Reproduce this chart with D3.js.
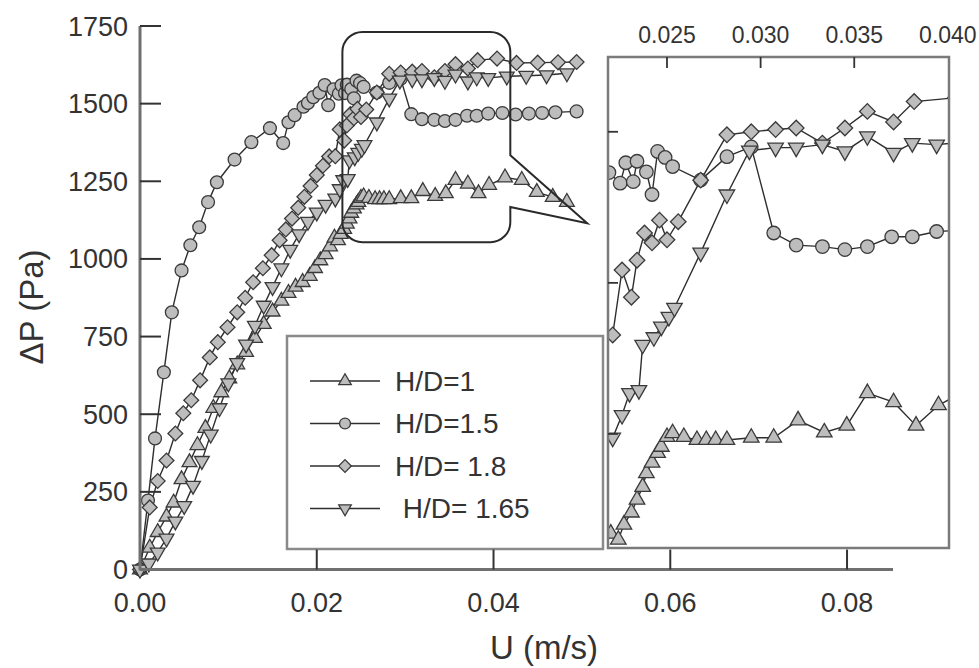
<!DOCTYPE html>
<html><head><meta charset="utf-8">
<script src="https://cdn.jsdelivr.net/npm/d3@7"></script>
<style>body{margin:0;background:#fff}svg{display:block}text{font-family:"Liberation Sans",Arial,sans-serif;fill:#333}</style>
</head><body>
<svg id="c" width="979" height="668"></svg>
<script>
// ---- data ----
const hd1U = [0,0.0011,0.0020,0.0030,0.0038,0.0047,0.0056,0.0065,0.0074,0.0083,0.0092,0.0101,0.0110,0.0120,0.0130,0.0140,0.0150,0.0160,0.0168,0.0176,0.0184,0.0192,0.0198,0.0204,0.0210,0.0215,0.0220,0.0224,0.0227,0.0231,0.0234,0.0237,0.0239,0.0242,0.0245,0.0247,0.0250,0.0253,0.0259,0.0266,0.0271,0.0276,0.0282,0.0295,0.0307,0.0320,0.0334,0.0346,0.0357,0.0371,0.0383,0.0395,0.0413,0.0432,0.0449,0.0467,0.0483];
const hd1P = [0,70,120,170,215,290,345,400,455,520,570,615,660,700,745,790,830,865,890,910,925,945,970,995,1015,1040,1068,1060,1080,1096,1113,1130,1148,1162,1175,1183,1196,1201,1196,1192,1192,1192,1192,1195,1195,1218,1202,1211,1254,1242,1211,1238,1262,1254,1215,1199,1183];

const hd15U = [0,0.0009,0.0017,0.0027,0.0036,0.0047,0.0057,0.0067,0.0077,0.0087,0.0107,0.0126,0.0147,0.0162,0.0168,0.0175,0.0185,0.0190,0.0196,0.0203,0.0209,0.0213,0.0219,0.0225,0.0228,0.0232,0.0234,0.0239,0.0242,0.0245,0.0249,0.0253,0.0268,0.0282,0.0295,0.0307,0.0319,0.0333,0.0345,0.0357,0.0370,0.0381,0.0394,0.0410,0.0425,0.0440,0.0455,0.0470,0.0494];
const hd15P = [0,222,422,635,828,963,1044,1102,1183,1247,1320,1376,1421,1373,1440,1463,1490,1502,1521,1535,1560,1495,1546,1532,1559,1534,1561,1547,1517,1574,1566,1554,1536,1567,1580,1466,1450,1448,1444,1448,1461,1461,1468,1470,1465,1468,1470,1472,1475];

const hd18U = [0,0.0011,0.0020,0.0030,0.0040,0.0049,0.0058,0.0068,0.0079,0.0088,0.0099,0.0110,0.0119,0.0128,0.0139,0.0149,0.0158,0.0165,0.0172,0.0179,0.0186,0.0193,0.0200,0.0207,0.0214,0.0221,0.0226,0.0231,0.0234,0.0238,0.0242,0.0246,0.0250,0.0256,0.0268,0.0282,0.0295,0.0308,0.0319,0.0333,0.0345,0.0357,0.0371,0.0382,0.0404,0.0426,0.0450,0.0473,0.0494];
const hd18P = [0,200,285,351,438,503,545,609,683,732,780,828,875,925,970,1012,1060,1095,1130,1165,1200,1235,1270,1300,1330,1331,1417,1381,1430,1466,1453,1483,1457,1481,1536,1596,1600,1603,1605,1585,1605,1627,1613,1640,1645,1631,1632,1633,1634];

const hd165U = [0,0.0010,0.0020,0.0030,0.0040,0.0050,0.0060,0.0070,0.0080,0.0090,0.0100,0.0110,0.0120,0.0130,0.0140,0.0150,0.0160,0.0170,0.0180,0.0190,0.0200,0.0210,0.0221,0.0226,0.0230,0.0235,0.0237,0.0243,0.0247,0.0251,0.0254,0.0268,0.0282,0.0294,0.0308,0.0319,0.0333,0.0345,0.0357,0.0371,0.0381,0.0394,0.0415,0.0437,0.0460,0.0483];
const hd165P = [0,20,55,100,155,205,270,350,435,520,600,665,725,785,850,910,970,1030,1080,1120,1150,1175,1195,1225,1254,1258,1318,1328,1342,1355,1367,1440,1517,1575,1579,1579,1583,1574,1594,1572,1585,1583,1588,1590,1592,1598];

const seriesNames = ["H/D=1","H/D=1.5","H/D= 1.8"," H/D= 1.65"];
const mainXTicks = [0,0.02,0.04,0.06,0.08];
const mainYTicks = [0,250,500,750,1000,1250,1500,1750];
const insetXTicks = [0.025,0.030,0.035,0.040];
const insetYTicks = [1200,1400,1600];
// zoom window marked on main chart
const zoomU = [0.0229,0.0419];
const zoomP = [1054,1731];

// ---- setup ----
const svg = d3.select("#c");
const x = d3.scaleLinear().domain([0,0.0852]).range([140,893]);
const y = d3.scaleLinear().domain([0,1750]).range([569.5,26]);
const xi = d3.scaleLinear().domain([0.02185,0.04006]).range([608,949]);
const yi = d3.scaleLinear().domain([1049,1699]).range([548,57]);

const series = [
  {name:seriesNames[0], U:hd1U, P:hd1P, sym:"tri"},
  {name:seriesNames[1], U:hd15U, P:hd15P, sym:"circ"},
  {name:seriesNames[2], U:hd18U, P:hd18P, sym:"dia"},
  {name:seriesNames[3], U:hd165U, P:hd165P, sym:"tridown"}
];
const MF="#bdbdbd", MS="#3a3a3a", LC="#2e2e2e";
function symPath(kind, scale){
  const s = scale||1;
  if(kind==="circ") return {d:d3.symbol(d3.symbolCircle, 130*s*s)(), rot:0};
  if(kind==="dia") return {d:d3.symbol(d3.symbolSquare, 110*s*s)(), rot:45};
  if(kind==="tri") return {d:d3.symbol(d3.symbolTriangle, 95*s*s)(), rot:0};
  return {d:d3.symbol(d3.symbolTriangle, 95*s*s)(), rot:180};
}
function drawSeries(g, sx, sy, sc){
  series.forEach(s=>{
    const pts = s.U.map((u,i)=>[u,s.P[i]]);
    g.append("path").datum(pts)
      .attr("d", d3.line().x(d=>sx(d[0])).y(d=>sy(d[1])))
      .attr("fill","none").attr("stroke",LC).attr("stroke-width",1.4);
  });
  series.forEach(s=>{
    const pts = s.U.map((u,i)=>[u,s.P[i]]);
    const sp = symPath(s.sym, sc);
    g.selectAll(null).data(pts).enter().append("path")
      .attr("d", sp.d)
      .attr("transform", d=>`translate(${sx(d[0])},${sy(d[1])}) rotate(${sp.rot})`)
      .attr("fill",MF).attr("stroke",MS).attr("stroke-width",1.3);
  });
}

// ---- main chart ----
const main = svg.append("g");
drawSeries(main, x, y, 1);

// axes
svg.append("line").attr("x1",x(0)).attr("x2",x(0)).attr("y1",y(1750)).attr("y2",y(0)+1)
  .attr("stroke","#707070").attr("stroke-width",3);
svg.append("line").attr("x1",x(0)).attr("x2",x(0.0852)).attr("y1",y(0)).attr("y2",y(0))
  .attr("stroke","#707070").attr("stroke-width",3);

// legend
const lg = svg.append("g");
lg.append("rect").attr("x",287).attr("y",336).attr("width",316).attr("height",213)
  .attr("fill","#fff").attr("stroke","#8a8a8a").attr("stroke-width",2.5);
series.forEach((s,i)=>{
  const cy = 381 + i*42.5;
  lg.append("line").attr("x1",310).attr("x2",380).attr("y1",cy).attr("y2",cy)
    .attr("stroke",LC).attr("stroke-width",1.5);
  const sp = symPath(s.sym, 0.85);
  lg.append("path").attr("d",sp.d).attr("transform",`translate(345,${cy}) rotate(${sp.rot})`)
    .attr("fill",MF).attr("stroke",MS).attr("stroke-width",1.3);
  lg.append("text").attr("x",395).attr("y",cy+9.5).attr("font-size",28)
    .attr("xml:space","preserve").style("white-space","pre").text(s.name);
});

// ticks on main axes (inward)
mainYTicks.forEach(t=>{
  if(t>0) svg.append("line").attr("x1",x(0)).attr("x2",x(0)+21).attr("y1",y(t)).attr("y2",y(t))
    .attr("stroke","#333").attr("stroke-width",2);
  svg.append("text").attr("x",x(0)-12).attr("y",y(t)+9.5).attr("text-anchor","end")
    .attr("font-size",27).text(t);
});
mainXTicks.forEach(t=>{
  if(t>0) svg.append("line").attr("x1",x(t)).attr("x2",x(t)).attr("y1",y(0)).attr("y2",y(0)-20)
    .attr("stroke","#333").attr("stroke-width",2);
  svg.append("text").attr("x",x(t)).attr("y",612).attr("text-anchor","middle")
    .attr("font-size",27).text(d3.format(".2f")(t));
});
svg.append("text").attr("x",544).attr("y",659).attr("text-anchor","middle")
  .attr("font-size",33).text("U (m/s)");
svg.append("text").attr("transform","translate(43,307) rotate(-90)").attr("text-anchor","middle")
  .attr("font-size",33).text("ΔP (Pa)");

// callout box with pointer
const bx0=x(zoomU[0]), bx1=x(zoomU[1]), by0=y(zoomP[1]), by1=y(zoomP[0]), r=20;
const pA=y(1334), pB=y(1167), tipX=x(0.0506), tipY=y(1115);
const cp = d3.path();
cp.moveTo(bx0+r,by0); cp.lineTo(bx1-r,by0); cp.arcTo(bx1,by0,bx1,by0+r,r);
cp.lineTo(bx1,pA); cp.lineTo(tipX,tipY); cp.lineTo(bx1,pB);
cp.lineTo(bx1,by1-r); cp.arcTo(bx1,by1,bx1-r,by1,r);
cp.lineTo(bx0+r,by1); cp.arcTo(bx0,by1,bx0,by1-r,r);
cp.lineTo(bx0,by0+r); cp.arcTo(bx0,by0,bx0+r,by0,r); cp.closePath();
svg.append("path").attr("d",cp.toString()).attr("fill","none").attr("stroke","#2a2a2a").attr("stroke-width",2);

// ---- inset ----
const ix0=xi.range()[0], ix1=xi.range()[1], iy0=yi.range()[1], iy1=yi.range()[0];
svg.append("rect").attr("x",ix0).attr("y",iy0).attr("width",ix1-ix0).attr("height",iy1-iy0)
  .attr("fill","#fff");
svg.append("clipPath").attr("id","ic").append("rect")
  .attr("x",ix0).attr("y",iy0).attr("width",ix1-ix0).attr("height",iy1-iy0);
const ig = svg.append("g").attr("clip-path","url(#ic)");
drawSeries(ig, xi, yi, 1.05);
svg.append("rect").attr("x",ix0).attr("y",iy0).attr("width",ix1-ix0).attr("height",iy1-iy0)
  .attr("fill","none").attr("stroke","#7a7a7a").attr("stroke-width",2.5);
insetXTicks.forEach(t=>{
  if(t<0.0399) svg.append("line").attr("x1",xi(t)).attr("x2",xi(t)).attr("y1",iy0).attr("y2",iy0+11)
    .attr("stroke","#333").attr("stroke-width",1.8);
  svg.append("text").attr("x",xi(t)).attr("y",43).attr("text-anchor","middle")
    .attr("font-size",23).text(d3.format(".3f")(t));
});
insetYTicks.forEach(t=>{
  svg.append("line").attr("x1",ix0).attr("x2",ix0+10).attr("y1",yi(t)).attr("y2",yi(t))
    .attr("stroke","#333").attr("stroke-width",1.8);
});
</script>
</body></html>
